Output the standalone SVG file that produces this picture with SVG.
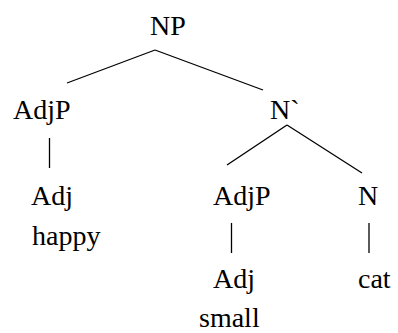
<svg xmlns="http://www.w3.org/2000/svg" width="398" height="333" viewBox="0 0 398 333">
<style>
text{font-family:'Liberation Serif','Times New Roman',serif;font-size:28px;fill:#000}
.e line{stroke:#000;stroke-width:1.3}
</style>
<rect width="398" height="333" fill="#fff"/>
<g class="e" id="connectors">
<line x1="155" y1="50" x2="67" y2="83"/>
<line x1="155" y1="50" x2="263" y2="90"/>
<line x1="49.5" y1="138" x2="49.5" y2="168"/>
<line x1="287" y1="125" x2="227" y2="165"/>
<line x1="287" y1="125" x2="362" y2="173"/>
<line x1="231.5" y1="223" x2="231.5" y2="253"/>
<line x1="369" y1="223" x2="369" y2="253"/>
</g>
<g id="np"><text x="150" y="35">NP</text></g>
<g id="adjp1"><text x="13" y="119">AdjP</text></g>
<g id="nbar"><text x="270" y="119">N`</text></g>
<g id="adj1"><text x="31" y="205">Adj</text><text x="32" y="245">happy</text></g>
<g id="adjp2"><text x="213" y="205">AdjP</text></g>
<g id="n"><text x="358" y="205">N</text></g>
<g id="adj2"><text x="213" y="288">Adj</text><text x="199" y="327">small</text></g>
<g id="cat"><text x="358" y="288">cat</text></g>
</svg>
